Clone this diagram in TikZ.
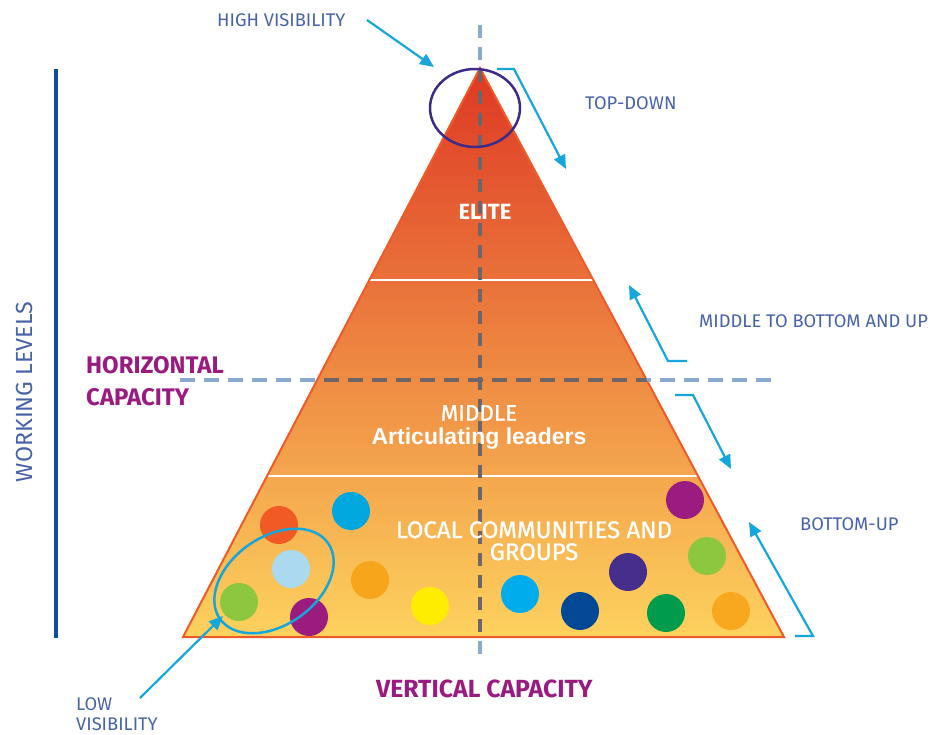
\documentclass[tikz,border=0pt]{standalone}
\usepackage{fontspec}
\setmainfont{Fira Sans}
\newfontfamily\arialfont{Liberation Sans}
\newfontfamily\mediumfont[FakeBold=1]{Fira Sans}
\usetikzlibrary{arrows.meta}

\definecolor{labelblue}{HTML}{4762A9}
\definecolor{capmagenta}{HTML}{9A1B7F}
\definecolor{arrowblue}{HTML}{15A6DC}
\definecolor{ringpurple}{HTML}{3E2A88}
\definecolor{barblue}{HTML}{0D4C9E}
\definecolor{dashlight}{HTML}{8BA9CF}
\definecolor{dashdark}{HTML}{6E6568}
\definecolor{edgeorange}{HTML}{F05A28}

\begin{document}
\begin{tikzpicture}[x=1pt,y=-1pt,
  label/.style={text=labelblue,font=\fontsize{18.3}{20}\selectfont,inner sep=0pt},
  capacity/.style={text=capmagenta,font=\bfseries\fontsize{24}{32}\selectfont,inner sep=0pt},
  level/.style={text=white,inner sep=0pt,align=center},
  pointer/.style={draw=arrowblue,line width=2.2pt,-{Triangle[length=14pt,width=12pt]}},
  dot/.style={radius=19pt}]

  \useasboundingbox (0,0) rectangle (932,734);

  % pyramid
  \coordinate (apex) at (480,68);
  \coordinate (baseL) at (183,637);
  \coordinate (baseR) at (784,637);
  \shade[top color={rgb,255:red,222;green,56;blue,36}, middle color={rgb,255:red,238;green,140;blue,58},
         bottom color={rgb,255:red,253;green,210;blue,94}] (apex) -- (baseL) -- (baseR) -- cycle;
  \draw[white, line width=2pt] (370,280) -- (593,280);
  \draw[white, line width=2pt] (268,476) -- (697,476);

  % dots in the bottom level
  \fill[color={rgb,255:red,241;green,90;blue,36}] (279,525) circle[dot];
  \fill[color={rgb,255:red,0;green,166;blue,222}] (351,511) circle[dot];
  \fill[color={rgb,255:red,171;green,218;blue,240}] (291,569) circle[dot];
  \fill[color={rgb,255:red,141;green,198;blue,63}] (239,602) circle[dot];
  \fill[color={rgb,255:red,155;green,27;blue,126}] (309,617) circle[dot];
  \fill[color={rgb,255:red,247;green,166;blue,27}] (370,580) circle[dot];
  \fill[color={rgb,255:red,255;green,237;blue,0}] (430,606) circle[dot];
  \fill[color={rgb,255:red,0;green,172;blue,236}] (520,594) circle[dot];
  \fill[color={rgb,255:red,3;green,72;blue,148}] (580,611) circle[dot];
  \fill[color={rgb,255:red,69;green,46;blue,140}] (628,572) circle[dot];
  \fill[color={rgb,255:red,155;green,27;blue,128}] (685,500) circle[dot];
  \fill[color={rgb,255:red,141;green,198;blue,63}] (707,556) circle[dot];
  \fill[color={rgb,255:red,0;green,155;blue,75}] (666,613) circle[dot];
  \fill[color={rgb,255:red,247;green,168;blue,30}] (731,611) circle[dot];

  \draw[edgeorange, line width=2pt, line join=miter] (apex) -- (baseL) -- (baseR) -- cycle;

  % capacity axes
  \draw[dashlight, line width=4pt, dash pattern=on 13pt off 9pt] (480,25) -- (480,662);
  \draw[dashlight, line width=4pt, dash pattern=on 15pt off 9pt] (180,380) -- (774,380);
  \begin{scope}
    \clip (apex) -- (baseL) -- (baseR) -- cycle;
    \draw[dashdark, line width=4pt, dash pattern=on 13pt off 9pt] (480,25) -- (480,662);
    \draw[dashdark, line width=4pt, dash pattern=on 15pt off 9pt] (180,380) -- (774,380);
  \end{scope}

  % visibility rings
  \draw[ringpurple, line width=2.5pt] (475,108) ellipse[x radius=45pt, y radius=39pt];
  \draw[arrowblue, line width=2.5pt, rotate around={35:(274,581)}] (274,581) ellipse[x radius=66pt, y radius=44pt];

  % working levels bar
  \draw[barblue, line width=4pt] (56,69) -- (56,638);
  \node[label, rotate=90, anchor=base, font=\fontsize{23.3}{26}\selectfont] (working) at (32,392) {WORKING LEVELS};

  % labels
  \node[label, anchor=base west] (highvis) at (217,26) {HIGH VISIBILITY};
  \node[label, anchor=base west] (topdown) at (585,109) {TOP-DOWN};
  \node[label, anchor=base west] (midup) at (699,327) {MIDDLE TO BOTTOM AND UP};
  \node[label, anchor=base west] (bottomup) at (800,530) {BOTTOM-UP};
  \node[label, anchor=north west, align=left] (lowvis) at (76,697) {LOW\\VISIBILITY};
  \node[capacity, anchor=north west, align=left] (horiz) at (86,356) {HORIZONTAL\\CAPACITY};
  \node[capacity, anchor=base west, font=\bfseries\fontsize{24.8}{30}\selectfont] (vertical) at (376,697) {VERTICAL CAPACITY};

  \node[level, anchor=base, font=\bfseries\fontsize{22}{24}\selectfont] (elite) at (485,219) {ELITE};
  \node[level, anchor=north, font=\mediumfont\fontsize{22.5}{24}\selectfont] (middle) at (479,405)
    {MIDDLE\\{\arialfont\bfseries\fontsize{23}{24}\selectfont Articulating leaders}};
  \node[level, anchor=north, font=\mediumfont\fontsize{24}{22}\selectfont] (local) at (534,521)
    {LOCAL COMMUNITIES AND\\GROUPS};

  % direction arrows
  \coordinate (hv1) at (367,20);
  \coordinate (hv2) at (434,67);
  \draw[pointer] (hv1) -- (hv2);
  \coordinate (td1) at (497,69);
  \coordinate (td2) at (514,69);
  \coordinate (td3) at (566,169);
  \draw[pointer] (td1) -- (td2) -- (td3);
  \coordinate (mu1) at (687,361);
  \coordinate (mu2) at (668,361);
  \coordinate (mu3) at (629,285);
  \draw[pointer] (mu1) -- (mu2) -- (mu3);
  \coordinate (md1) at (675,395);
  \coordinate (md2) at (693,395);
  \coordinate (md3) at (731,469);
  \draw[pointer] (md1) -- (md2) -- (md3);
  \coordinate (bu1) at (795,636);
  \coordinate (bu2) at (813,636);
  \coordinate (bu3) at (749,522);
  \draw[pointer] (bu1) -- (bu2) -- (bu3);
  \coordinate (lv1) at (140,698);
  \coordinate (lv2) at (223,616);
  \draw[pointer] (lv1) -- (lv2);

\end{tikzpicture}
\end{document}
